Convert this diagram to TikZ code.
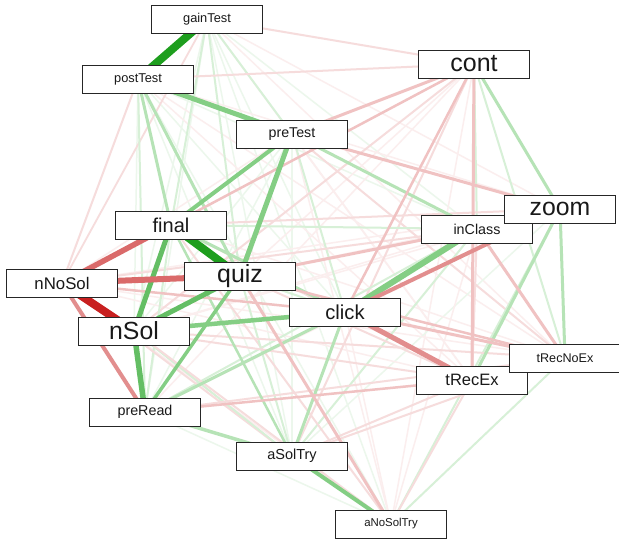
\documentclass[tikz,border=0pt]{standalone}
\usepackage{fontspec}
\setmainfont{Liberation Sans}
\usetikzlibrary{backgrounds}
\definecolor{g1}{RGB}{30,158,30}
\definecolor{g2}{RGB}{100,190,100}
\definecolor{g3}{RGB}{132,206,132}
\definecolor{g4}{RGB}{182,227,182}
\definecolor{g5}{RGB}{215,240,215}
\definecolor{g6}{RGB}{236,247,236}
\definecolor{r1}{RGB}{200,32,32}
\definecolor{r2}{RGB}{218,106,106}
\definecolor{r3}{RGB}{226,142,142}
\definecolor{r4}{RGB}{240,194,194}
\definecolor{r5}{RGB}{246,220,220}
\definecolor{r6}{RGB}{251,238,238}
\begin{document}
\begin{tikzpicture}[x=1pt,y=-1pt,
  box/.style={draw=black!85, line width=0.9pt, fill=white, minimum width=111pt,
    minimum height=28pt, inner sep=0pt, text=black!90},
  fs/.style={font=\fontsize{#1}{#1}\selectfont}]
\useasboundingbox (0,0) rectangle (619,540);
\node[box,fs=12.8] (gT)  at (207,19)  {gainTest};
\node[box,fs=12.8] (poT) at (138,79)  {postTest};
\node[box,fs=14.2] (prT) at (292,134) {preTest};
\node[box,fs=25]   (co)  at (474,64)  {cont};
\node[box,fs=14.3] (iC)  at (477,229) {inClass};
\node[box,fs=24.8] (zo)  at (560,209) {zoom};
\node[box,fs=20]   (fi)  at (171,225) {final};
\node[box,fs=16.8] (nN)  at (62,283)  {nNoSol};
\node[box,fs=24.9] (qu)  at (240,276) {quiz};
\node[box,fs=24.8] (nS)  at (134,331) {nSol};
\node[box,fs=20.2] (cl)  at (345,312) {click};
\node[box,fs=16.5] (tE)  at (472,380) {tRecEx};
\node[box,fs=12.6] (tN)  at (565,358) {tRecNoEx};
\node[box,fs=14.3] (pR)  at (145,412) {preRead};
\node[box,fs=14.5] (aS)  at (292,456) {aSolTry};
\node[box,fs=11.4] (aN)  at (391,524) {aNoSolTry};
\begin{pgfonlayer}{background}
\fill[white] (0,0) rectangle (619,540);
\foreach \a/\b/\c/\w in {
 gT/aN/g6/1.5, gT/cl/g6/1.5, gT/nS/g6/1.5, gT/pR/g6/1.5, gT/aS/g6/1.5, gT/iC/g6/1.5,
 gT/zo/r6/1.5, gT/tE/r6/1.5, gT/tN/r6/1.5,
 poT/zo/r6/1.5, poT/iC/g6/1.5, poT/nS/g6/1.5, poT/cl/g6/1.5, poT/tN/r6/1.5, poT/tE/r6/1.5,
 poT/aS/g6/1.5, poT/aN/g6/1.5,
 prT/nN/r6/1.5, prT/nS/g6/1.5, prT/tE/r6/1.5, prT/pR/g6/1.5, prT/aS/g6/1.5, prT/aN/r6/1.5,
 co/fi/r6/1.5, co/qu/r6/1.5, co/pR/r6/1.5, co/aN/r6/1.5,
 zo/iC/g6/1.5, zo/nN/r6/1.5, zo/qu/r6/1.5, zo/nS/r6/1.5, zo/pR/r6/1.5, zo/aS/g6/1.5,
 iC/nS/r6/1.5, iC/aN/r6/1.5,
 fi/tN/r6/1.5, nN/tN/r6/1.5, nN/tE/r6/1.5, nN/aN/r6/1.5, cl/aN/r6/1.5, pR/aN/g6/1.5,
 gT/co/r5/2, gT/nN/r5/1.8, gT/prT/g5/2, gT/qu/g5/2, gT/fi/g5/2,
 poT/co/r5/2, poT/pR/g5/2, poT/nN/r5/2,
 prT/cl/g5/2, prT/tN/r5/2,
 co/nS/r5/2, co/iC/g5/2, co/tN/g5/2, co/aS/r5/2,
 zo/fi/r5/2, zo/aN/g5/2,
 iC/aS/g5/2, iC/pR/g5/2, iC/fi/g5/2, iC/nN/r5/2, iC/tE/r5/2,
 fi/aN/r5/2, fi/tE/r5/2, fi/pR/g5/2,
 nN/aS/r5/2,
 qu/tE/r5/2, qu/aS/g5/2, qu/cl/g5/2,
 nS/aS/g5/2, nS/tN/r5/2, nS/tE/r5/2, nS/aN/r5/2,
 tN/aN/g5/2, tN/tE/r5/2, tN/pR/r5/2, tN/aS/r5/2,
 tE/aS/r5/2, tE/aN/r5/2,
 poT/fi/g4/3, poT/qu/g4/3, co/zo/g4/3, zo/tN/g4/3, zo/tE/g4/3, cl/aS/g4/3,
 fi/aS/g4/2.5, fi/cl/g4/3, pR/aS/g4/3.5, pR/cl/g4/3, prT/iC/g4/3,
 co/prT/r4/3, co/tE/r4/3, co/cl/r4/2.5, iC/tN/r4/3, qu/iC/r4/3, qu/aN/r4/3,
 prT/zo/r4/3, cl/tN/r4/3, qu/tN/r4/2.5, pR/tE/r4/2.5, nN/cl/r4/2.5, nN/co/r4/2.5,
 qu/pR/g3/3.5, prT/fi/g3/4, nS/cl/g3/4.5, aS/aN/g3/4, cl/iC/g3/6,
 poT/prT/g3/5, prT/qu/g3/5, cl/zo/r3/4, cl/tE/r3/5, nN/pR/r3/4,
 fi/nS/g2/5, nS/pR/g2/5.5, nS/qu/g2/5, nN/qu/r2/6, nN/fi/r2/5.5,
 gT/poT/g1/8, fi/qu/g1/8, nN/nS/r1/8}
 \draw[draw=\c, line width=\w pt] (\a.center) -- (\b.center);
\end{pgfonlayer}
\end{tikzpicture}
\end{document}
